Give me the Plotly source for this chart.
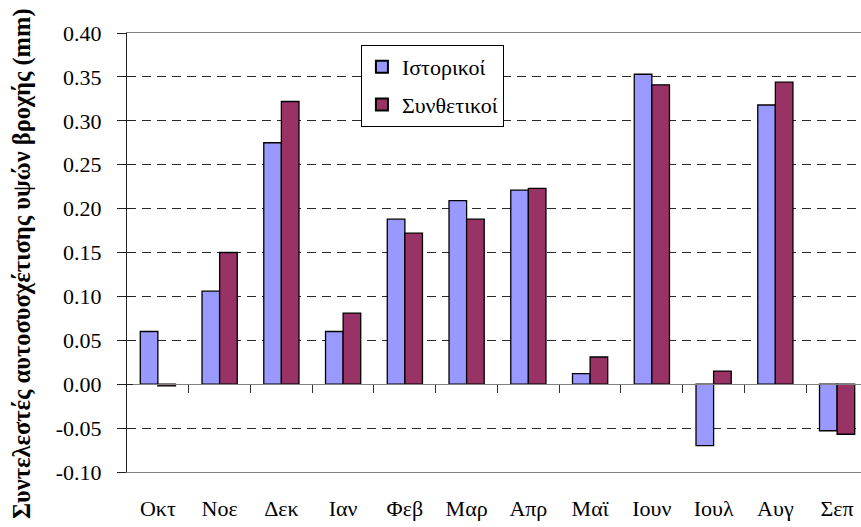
import plotly.graph_objects as go

months = ["Οκτ", "Νοε", "Δεκ", "Ιαν", "Φεβ", "Μαρ", "Απρ", "Μαϊ", "Ιουν", "Ιουλ", "Αυγ", "Σεπ"]
historical = [0.060, 0.106, 0.275, 0.060, 0.188, 0.209, 0.221, 0.012, 0.353, -0.070, 0.318, -0.053]
synthetic = [-0.002, 0.150, 0.322, 0.081, 0.172, 0.188, 0.223, 0.031, 0.341, 0.015, 0.344, -0.057]
y_tick_vals = [-0.10, -0.05, 0.00, 0.05, 0.10, 0.15, 0.20, 0.25, 0.30, 0.35, 0.40]
y_tick_text = ["-0.10", "-0.05", "0.00", "0.05", "0.10", "0.15", "0.20", "0.25", "0.30", "0.35", "0.40"]
series_names = ["Ιστορικοί", "Συνθετικοί"]
y_title = "Συντελεστές αυτοσυσχέτισης υψών βροχής (mm)"

FONT = "Liberation Serif, DejaVu Serif, serif"
n = len(months)
x_idx = list(range(n))
x_range = [-0.5, n - 0.5 - 0.113]
boundaries = [i + 0.5 for i in range(n - 1)]

fig = go.Figure()
fig.add_trace(go.Bar(x=x_idx, y=historical, name=series_names[0], legendgroup="a",
                     marker=dict(color="#9999FF", line=dict(color="black", width=1.3))))
fig.add_trace(go.Bar(x=x_idx, y=synthetic, name=series_names[1], legendgroup="b",
                     marker=dict(color="#993366", line=dict(color="black", width=1.3))))

fig.update_layout(
    width=861, height=527,
    margin=dict(l=127, r=0, t=33, b=55, autoexpand=False),
    paper_bgcolor="white", plot_bgcolor="white",
    font=dict(family=FONT, size=22, color="black"),
    barmode="group", bargap=0.43, bargroupgap=0,
    showlegend=True,
    legend=dict(x=0.3187, y=0.9727, xanchor="left", yanchor="top",
                bordercolor="black", borderwidth=1, bgcolor="white",
                font=dict(family=FONT, size=22), tracegroupgap=6,
                itemsizing="constant", entrywidth=132, entrywidthmode="pixels"),
    xaxis=dict(range=x_range, tickvals=x_idx, ticktext=months, showgrid=False,
               zeroline=False, showline=True, linecolor="#808080", linewidth=1,
               mirror=True, ticks="", ticklabelstandoff=17, automargin=False,
               tickfont=dict(family=FONT, size=22)),
    xaxis2=dict(range=x_range, overlaying="x", anchor="free", position=0.2,
                tickvals=boundaries, ticks="outside", ticklen=8, tickcolor="#333",
                showticklabels=False, showgrid=False, zeroline=False,
                showline=True, linecolor="#808080", linewidth=1.2),
    yaxis=dict(range=[-0.10, 0.40], tickvals=y_tick_vals, ticktext=y_tick_text,
               showgrid=True, gridcolor="#2a2a2a", griddash="9px,6px", gridwidth=1,
               zeroline=False, showline=True, linecolor="#222", linewidth=1.2,
               ticks="outside", ticklen=9, tickcolor="#222", ticklabelstandoff=11,
               automargin=False, tickfont=dict(family=FONT, size=22)),
    yaxis2=dict(range=[-0.10, 0.40], overlaying="y", tickvals=y_tick_vals,
                ticks="inside", ticklen=6, tickcolor="#222", showticklabels=False,
                showgrid=False, zeroline=False, showline=False),
    annotations=[dict(text="<b>" + y_title + "</b>", xref="paper", yref="paper",
                      x=-0.143, y=0.474, xanchor="center", yanchor="middle",
                      textangle=-90, showarrow=False,
                      font=dict(family=FONT, size=24.5, color="black"))],
)
# invisible trace to activate secondary axes
fig.add_trace(go.Scatter(x=[x_range[0]], y=[0], xaxis="x2", yaxis="y2", mode="markers",
                         marker=dict(opacity=0), showlegend=False, hoverinfo="skip"))

fig.write_html("out.html", config={"displayModeBar": False},
               post_script="document.body.style.margin='0';document.body.style.overflow='hidden';")
